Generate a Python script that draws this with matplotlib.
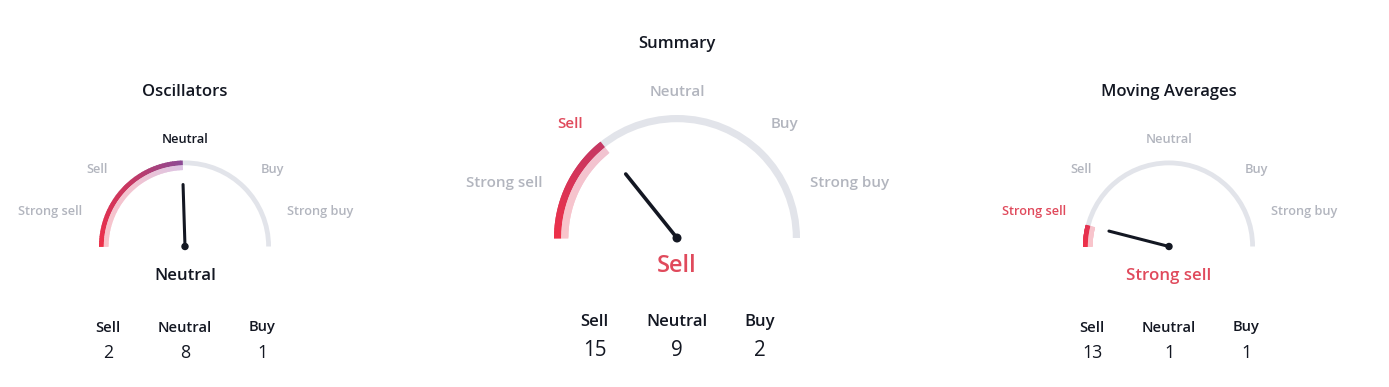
import numpy as np
import matplotlib
matplotlib.use("Agg")
import matplotlib.pyplot as plt
from matplotlib.patches import Wedge, Circle
from matplotlib.colors import LinearSegmentedColormap

# ---------------- data ----------------
gauge_titles = ["Oscillators", "Summary", "Moving Averages"]
needle_values = [-0.02, -0.43, -0.84]          # -1 = strong sell, +1 = strong buy
gauge_results = ["Neutral", "Sell", "Strong sell"]
scale_labels = ["Strong sell", "Sell", "Neutral", "Buy", "Strong buy"]
count_labels = ["Sell", "Neutral", "Buy"]
oscillator_counts = [2, 8, 1]
summary_counts = [15, 9, 2]
moving_average_counts = [13, 1, 1]
all_counts = [oscillator_counts, summary_counts, moving_average_counts]

# ---------------- style / layout ----------------
W, H = 1389, 387
BLACK = "#131722"
GREY_TXT = "#b2b5be"
GREY_ARC = "#e2e4ea"
RED_TXT = "#e04a5c"
FONT = "Open Sans"

band_cmap = LinearSegmentedColormap.from_list(
    "band", [(0.0, "#ee3049"), (0.55, "#c73762"), (1.0, "#8a4c98")])
light_cmap = LinearSegmentedColormap.from_list(
    "light", [(0.0, "#f9c4cb"), (0.55, "#f2c3d0"), (1.0, "#dcc4e4")])

# per gauge layout (pixel coords, y measured from top)
side = dict(r=86, bw=4.8, needle=62, nlw=2.2, dot=3.0,
            title_dy=-154.5, res_dy=30, cnt_dx=77, cnt_dy=81, num_dy=106,
            lab=[(-135, -35), (-88, -77), (0, -107), (88, -77), (135, -35)],
            fs_title=12, fs_lab=9.2, fs_res=12.2, fs_cnt=10.6, fs_num=12.8)
center = dict(r=123, bw=7.2, needle=82, nlw=2.6, dot=3.8,
              title_dy=-194.5, res_dy=28.5, cnt_dx=82.5, cnt_dy=84, num_dy=112,
              lab=[(-173, -55), (-107, -114), (0, -146), (107, -114), (173, -55)],
              fs_title=12, fs_lab=10.9, fs_res=17, fs_cnt=12, fs_num=14.8)
layouts = [dict(side, cx=185, cy=246.5), dict(center, cx=677, cy=238),
           dict(side, cx=1169, cy=246.5)]

fig = plt.figure(figsize=(W / 100, H / 100), dpi=100)
fig.patch.set_facecolor("white")
ax = fig.add_axes([0, 0, 1, 1])
ax.set_xlim(0, W)
ax.set_ylim(0, H)
ax.axis("off")


def Y(y):
    return H - y


for title, val, result, counts, L in zip(gauge_titles, needle_values,
                                         gauge_results, all_counts, layouts):
    cx, cy, r, bw = L["cx"], Y(L["cy"]), L["r"], L["bw"]
    # grey background arc (outer band)
    ax.add_patch(Wedge((cx, cy), r, 0, 180, width=bw, facecolor=GREY_ARC,
                       edgecolor="none"))
    end_ang = 90 - val * 90  # degrees, 180 = strong sell
    n = 80
    angs = np.linspace(180, end_ang, n + 1)
    for a0, a1 in zip(angs[:-1], angs[1:]):
        t = np.clip((180 - 0.5 * (a0 + a1)) / 90.0, 0, 1)
        lo, hi = min(a0, a1), max(a0, a1)
        ax.add_patch(Wedge((cx, cy), r, lo - 0.3, hi + 0.3, width=bw,
                           facecolor=band_cmap(t), edgecolor="none"))
        ax.add_patch(Wedge((cx, cy), r - bw, lo - 0.3, hi + 0.3, width=bw,
                           facecolor=light_cmap(t), edgecolor="none"))
    # needle
    th = np.deg2rad(end_ang)
    ax.plot([cx, cx + L["needle"] * np.cos(th)],
            [cy, cy + L["needle"] * np.sin(th)],
            color=BLACK, lw=L["nlw"], solid_capstyle="round")
    ax.add_patch(Circle((cx, cy), L["dot"], color=BLACK))

    # scale labels
    res_color = BLACK if result == "Neutral" else RED_TXT
    for lab, (dx, dy) in zip(scale_labels, L["lab"]):
        col = res_color if lab == result else GREY_TXT
        ax.text(cx + dx, cy - dy, lab, ha="center", va="center",
                fontsize=L["fs_lab"], color=col, fontweight=600,
                family=FONT)
    # title
    ax.text(cx, cy - L["title_dy"], title, ha="center", va="center",
            fontsize=L["fs_title"], color=BLACK, family=FONT,
            fontweight=600)
    # result
    ax.text(cx, cy - L["res_dy"], result, ha="center", va="center",
            fontsize=L["fs_res"], color=res_color, family=FONT,
            fontweight=600)
    # counts
    for k, (cl, cv) in enumerate(zip(count_labels, counts)):
        x = cx + (k - 1) * L["cnt_dx"]
        ax.text(x, cy - L["cnt_dy"], cl, ha="center", va="center",
                fontsize=L["fs_cnt"], color=BLACK, family=FONT,
                fontweight=600)
        ax.text(x, cy - L["num_dy"], str(cv), ha="center", va="center",
                fontsize=L["fs_num"], color=BLACK, family=FONT)

fig.savefig("out.png", dpi=100, facecolor="white")
